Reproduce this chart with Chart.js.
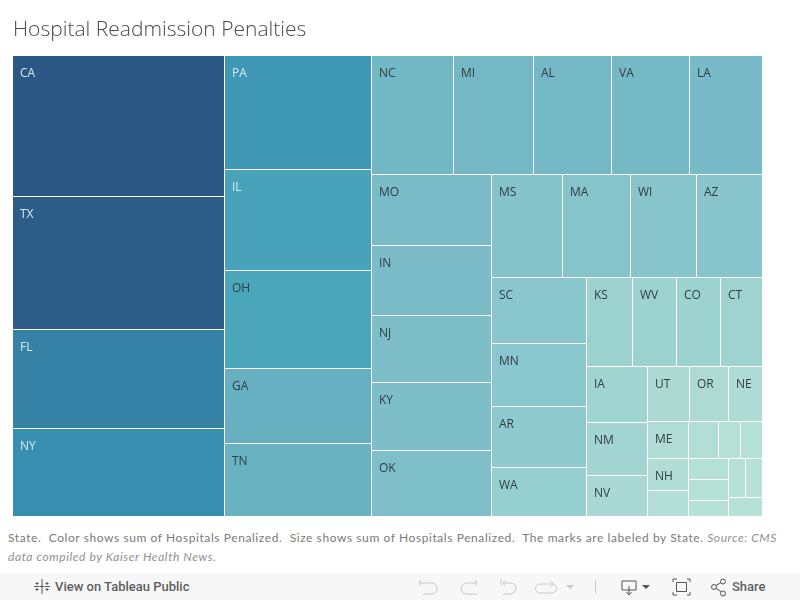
<!DOCTYPE html>
<html>
<head>
<meta charset="utf-8">
<title>Hospital Readmission Penalties</title>
<script src="https://cdn.jsdelivr.net/npm/chart.js@4"></script>
<style>
    html, body { margin: 0; padding: 0; background: #fff; width: 800px; height: 600px; overflow: hidden; }
    #chartBox { position: absolute; left: 0; top: 0; width: 800px; height: 522px; }
    #caption {
        position: absolute; left: 8px; top: 528px; width: 780px; margin: 0;
        font: 12px/19px Lato, sans-serif; letter-spacing: 0.58px; color: #7a7a7a;
    }
    #caption i { color: #909090; }
    #toolbar {
        position: absolute; left: 0; top: 573px; width: 800px; height: 27px; background: #f7f7f7;
        font: 500 13px Roboto, sans-serif; color: #5e5e5e;
    }
    #toolbar span { position: absolute; top: 6px; }
    #toolbar svg { position: absolute; left: 0; top: 0; }
</style>
</head>
<body>
<div id="chartBox"><canvas id="treemapChart" width="800" height="522"></canvas></div>
<p id="caption">State.&nbsp; Color shows sum of Hospitals Penalized.&nbsp; Size shows sum of Hospitals Penalized.&nbsp; The marks are labeled by State. <i>Source: CMS data compiled by Kaiser Health News.</i></p>
<div id="toolbar">
    <svg width="800" height="27" fill="none" stroke-width="1">
        <g stroke="#555">
            <path d="M42 6v5M42 16v5M34 13.500h5M45 13.500h5M37 9v3M35.500 10.500h3M47 9v3M45.500 10.500h3M37 15v3M35.500 16.500h3M47 15v3M45.500 16.500h3M42 11v5M39.500 13.500h5"/>
        </g>
        <g stroke="#c9c9c9">
            <path d="M421 7l-2 3 2 3M419 10h13a5 5 0 0 1 5 5v0a5 5 0 0 1 -5 6h-9"/>
            <path d="M475 7l2 3 -2 3M477 10h-10a6 6 0 0 0 -6 6v0a6 6 0 0 0 6 5h10"/>
            <path d="M501 6v7M505 7l-2 3 2 3M503 10h7a6 6 0 0 1 6 5v0a6 6 0 0 1 -6 6h-7"/>
            <path d="M551 8l2 3 -2 3M553 11h-13a4 4 0 0 0 0 9h12a4 4 0 0 0 0 -9"/>
            <path d="M595.500 7v13"/>
        </g>
        <path d="M566 12h8l-4 4z" fill="#c9c9c9"/>
        <g stroke="#555">
            <path d="M622 8h14v9h-14zM629 13v9M626.500 19l2.500 3 2.500 -3"/>
            <path d="M673 9v-3h4M687 6h3v3M690 19v3h-3M677 22h-4v-3M676.500 9.500h10v9h-10z"/>
            <circle cx="714" cy="14" r="2.500"/><circle cx="723" cy="8.500" r="2.500"/><circle cx="723" cy="20.500" r="2.500"/>
            <path d="M716 12.500l5 -3M716 15.500l5 3"/>
        </g>
        <path d="M642 12h8l-4 4z" fill="#555"/>
    </svg>
    <span style="left:55px">View on Tableau Public</span>
    <span style="left:732px">Share</span>
</div>
<script>
// Hospitals penalized per state, largest first
const states = ['CA', 'TX', 'FL', 'NY', 'PA', 'IL', 'OH', 'GA', 'TN', 'NC', 'MI', 'AL', 'VA', 'LA',
    'MO', 'IN', 'NJ', 'KY', 'OK', 'MS', 'MA', 'WI', 'AZ', 'SC', 'MN', 'AR', 'WA', 'KS', 'WV', 'CO', 'CT',
    'IA', 'NM', 'NV', 'UT', 'OR', 'NE', 'ME', 'NH', 'ID', 'RI', 'DE', 'SD', 'HI', 'DC', 'MT', 'ND', 'AK', 'VT'];
const penalized = [192, 182, 135, 120, 108, 95, 93, 71, 69, 62, 61, 60, 59, 56,
    55, 54, 52, 52, 51, 47, 45, 44, 44, 40, 39, 37, 30, 26, 25, 25, 24,
    22, 21, 16, 15, 14, 12, 9.5, 8.6, 6.7, 7.2, 5.3, 5.2, 5.2, 5.3, 4.2, 4.4, 4.2, 4.1];

// How the treemap nests: each level is split along the axis named, then the next level inside
const layoutTree = ['h', ['v', 'CA', 'TX', 'FL', 'NY'], ['v', 'PA', 'IL', 'OH', 'GA', 'TN'],
    ['v', ['h', 'NC', 'MI', 'AL', 'VA', 'LA'],
        ['h', ['v', 'MO', 'IN', 'NJ', 'KY', 'OK'],
            ['v', ['h', 'MS', 'MA', 'WI', 'AZ'],
                ['h', ['v', 'SC', 'MN', 'AR', 'WA'],
                    ['v', ['h', 'KS', 'WV', 'CO', 'CT'],
                        ['h', ['v', 'IA', 'NM', 'NV'],
                            ['v', ['h', 'UT', 'OR', 'NE'],
                                ['h', ['v', 'ME', 'NH', 'ID'],
                                    ['v', ['h', 'RI', 'DE', 'SD'],
                                        ['h', ['v', 'HI', 'DC', 'MT'],
                                            ['v', ['h', 'ND', 'AK'], 'VT']]]]]]]]]]]];

// Colour ramp stops: hospitals penalized -> colour
const rampValues = [4, 10, 15, 22, 26, 40, 47, 55, 62, 70, 93, 96, 107, 120, 135, 182, 192];
const rampColors = ['#b7e1d6', '#afdcd5', '#acdad3', '#a0d4d1', '#9bd2cf', '#8ac6ce', '#85c3cb', '#79bbc7', '#72b7c4',
    '#67b1c2', '#4ba5bb', '#47a2ba', '#3f98b5', '#378eb0', '#3682a6', '#2c5c88', '#2c5885'];

function rampColor(v) {
    let i = rampValues.findIndex(r => r >= v);
    if (i <= 0) return rampColors[0];
    const t = (v - rampValues[i - 1]) / (rampValues[i] - rampValues[i - 1]);
    const a = Chart.helpers.color(rampColors[i - 1]).rgb;
    const b = Chart.helpers.color(rampColors[i]).rgb;
    return `rgb(${Math.round(a.r + (b.r - a.r) * t)}, ${Math.round(a.g + (b.g - a.g) * t)}, ${Math.round(a.b + (b.b - a.b) * t)})`;
}

function nodeTotal(node) {
    if (typeof node === 'string') return penalized[states.indexOf(node)];
    return node.slice(1).reduce((sum, child) => sum + nodeTotal(child), 0);
}

// Walk the tree and give each state a box in data units
function placeNode(node, x0, y0, x1, y1, boxes) {
    if (typeof node === 'string') {
        boxes[states.indexOf(node)] = { x0, y0, x1, y1 };
        return;
    }
    const total = nodeTotal(node);
    let pos = node[0] === 'h' ? x0 : y0;
    node.slice(1).forEach(child => {
        const share = nodeTotal(child) / total;
        if (node[0] === 'h') {
            const next = pos + (x1 - x0) * share;
            placeNode(child, pos, y0, next, y1, boxes);
            pos = next;
        } else {
            const next = pos + (y1 - y0) * share;
            placeNode(child, x0, pos, x1, next, boxes);
            pos = next;
        }
    });
}

// Chart.js has no treemap type, so add a small controller that uses the linear scales
class TreemapController extends Chart.DatasetController {
    update() {}

    draw() {
        const ctx = this.chart.ctx;
        const xScale = this.getScaleForId('x');
        const yScale = this.getScaleForId('y');
        const boxes = [];
        placeNode(layoutTree, 0, 0, 1, 1, boxes);

        ctx.save();
        boxes.forEach((box, i) => {
            const left = Math.round(xScale.getPixelForValue(box.x0));
            const right = Math.round(xScale.getPixelForValue(box.x1));
            const top = Math.round(yScale.getPixelForValue(box.y0));
            const bottom = Math.round(yScale.getPixelForValue(box.y1));
            ctx.fillStyle = rampColor(penalized[i]);
            ctx.fillRect(left, top, right - left, bottom - top);
            ctx.fillStyle = '#ffffff';
            ctx.fillRect(right - 1, top, 1, bottom - top);
            ctx.fillRect(left, bottom - 1, right - left, 1);

            // labels only fit on the bigger cells
            if (right - left >= 32 && bottom - top >= 30) {
                ctx.font = '12px "Open Sans", sans-serif';
                ctx.textBaseline = 'middle';
                ctx.fillStyle = penalized[i] > 94 ? '#d9e8ef' : '#2f3f44';
                ctx.fillText(states[i], left + 7, top + 18);
            }
        });
        ctx.restore();
    }
}
TreemapController.id = 'treemap';
TreemapController.defaults = { dataElementType: 'bar' };
TreemapController.overrides = {
    scales: {
        x: { type: 'linear', display: false, min: 0, max: 1 },
        y: { type: 'linear', display: false, min: 0, max: 1, reverse: true }
    }
};
Chart.register(TreemapController);

document.addEventListener('DOMContentLoaded', function () {
    const ctx = document.getElementById('treemapChart').getContext('2d');
    new Chart(ctx, {
        type: 'treemap',
        data: {
            labels: states,
            datasets: [{ label: 'Hospitals Penalized', data: penalized }]
        },
        options: {
            responsive: false,
            animation: false,
            layout: { padding: { left: 13, right: 37, top: 17, bottom: 5 } },
            plugins: {
                legend: { display: false },
                tooltip: { enabled: false },
                title: {
                    display: true,
                    text: 'Hospital Readmission Penalties',
                    align: 'start',
                    color: '#4a4a4a',
                    font: { family: '"Open Sans", sans-serif', size: 21, weight: '300' },
                    padding: { top: 0, bottom: 14 }
                }
            }
        }
    });
});
</script>
</body>
</html>
